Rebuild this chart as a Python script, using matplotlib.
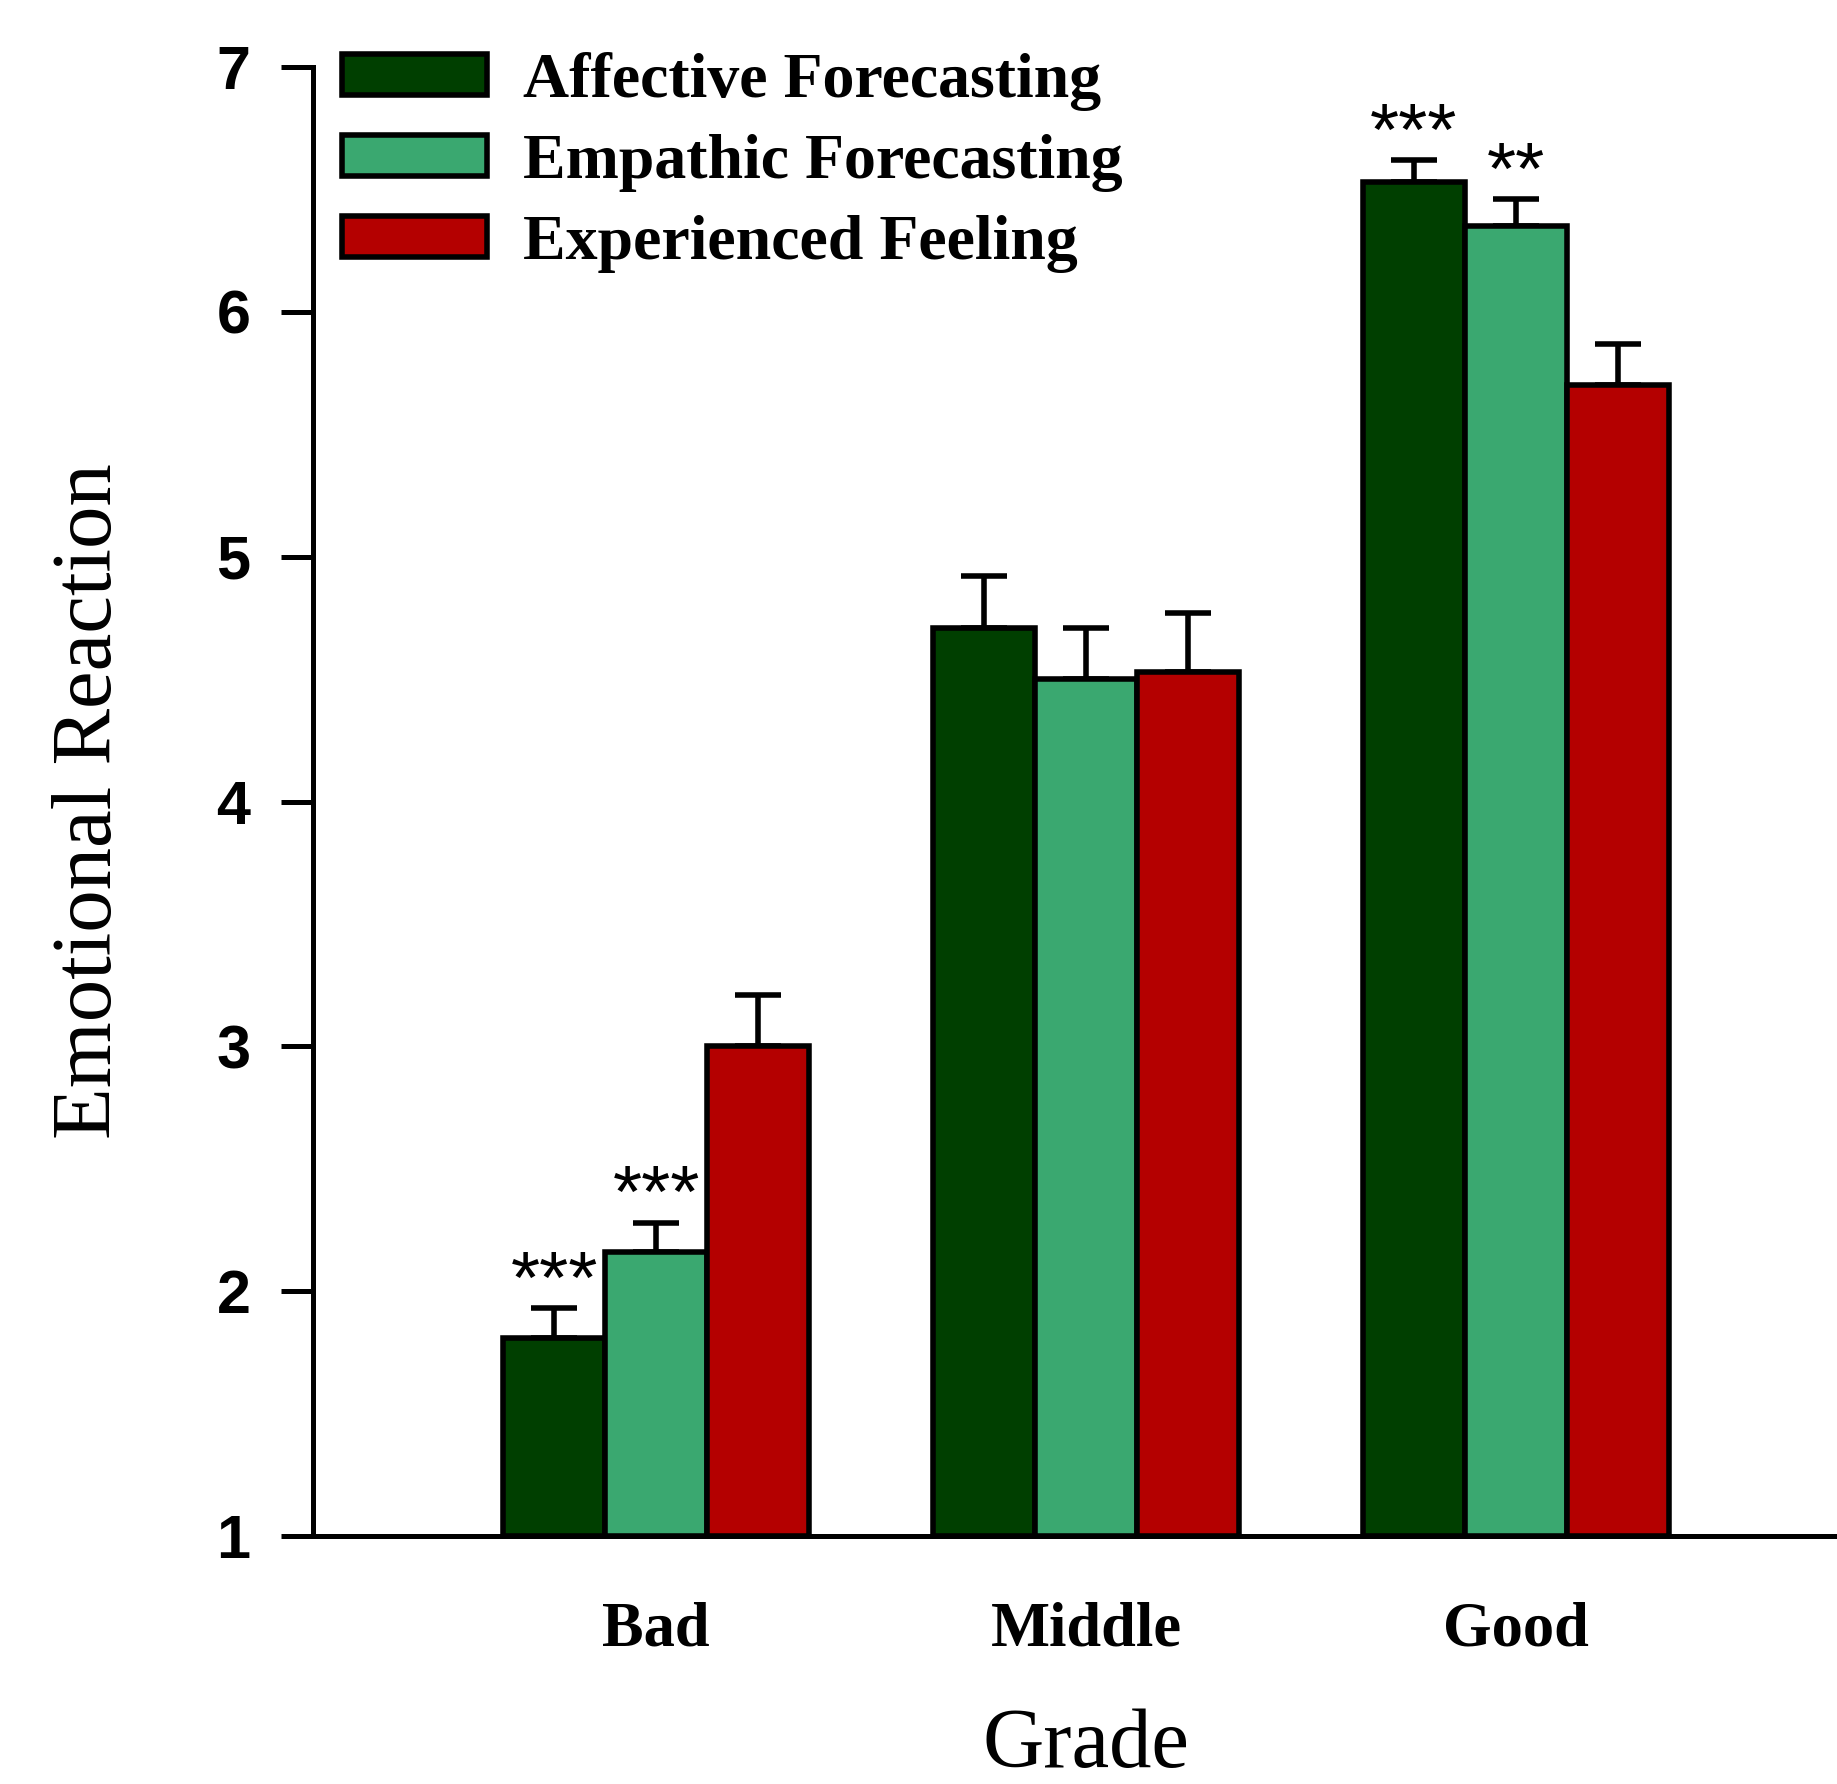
import matplotlib
matplotlib.use("Agg")
import matplotlib.pyplot as plt
import matplotlib.transforms as mtransforms
from matplotlib.patches import Patch
import numpy as np

# ---- data ----
grades = ["Bad", "Middle", "Good"]
series_names = ["Affective Forecasting", "Empathic Forecasting", "Experienced Feeling"]
affective = [1.81, 4.71, 6.53]
affective_err = [0.12, 0.21, 0.09]
empathic = [2.16, 4.50, 6.35]
empathic_err = [0.12, 0.21, 0.11]
experienced = [3.00, 4.53, 5.70]
experienced_err = [0.21, 0.24, 0.17]
stars_affective = ["***", "", "***"]
stars_empathic = ["***", "", "**"]
stars_experienced = ["", "", ""]
yticks = [1, 2, 3, 4, 5, 6, 7]

colors = ["#003F00", "#3AA870", "#B40000"]

fig = plt.figure(figsize=(18.37, 17.84), dpi=100)
ax = fig.add_axes([0.1704, 0.139, 0.8296, 0.8234])

x = np.arange(len(grades))
w = 0.237
all_vals = [affective, empathic, experienced]
all_errs = [affective_err, empathic_err, experienced_err]
all_stars = [stars_affective, stars_empathic, stars_experienced]
offsets = [-w, 0, w]

for vals, errs, stars, off, c in zip(all_vals, all_errs, all_stars, offsets, colors):
    heights = [v - 1 for v in vals]
    ax.bar(x + off, heights, width=w, bottom=1, color=c, edgecolor="black",
           linewidth=4.0, zorder=3)
    ax.errorbar(x + off, vals, yerr=[[0] * len(vals), errs], fmt="none",
                ecolor="black", elinewidth=4.0, capsize=16.5, capthick=4.0, zorder=2)
    for xi, v, e, s in zip(x + off, vals, errs, stars):
        if s:
            ax.annotate(s, (xi, v + e), xytext=(0, 4), textcoords="offset points",
                        ha="center", va="baseline", fontsize=54, fontweight="medium",
                        family="Liberation Sans", zorder=4)

ax.set_xlim(-0.798, 2.747)
ax.set_ylim(1, 7)
ax.set_yticks(yticks)
ax.set_yticklabels([str(t) for t in yticks], fontsize=44, fontweight="bold",
                   family="Liberation Sans")
ax.set_xticks(x)
ax.set_xticklabels(grades, fontsize=45, fontweight="bold", family="Liberation Serif")
ax.tick_params(axis="y", direction="out", length=23, width=3.6, pad=22)
ax.tick_params(axis="x", length=0, pad=47)

for sp in ["top", "right"]:
    ax.spines[sp].set_visible(False)
for sp in ["left", "bottom"]:
    ax.spines[sp].set_linewidth(3.6)
ax.spines["bottom"].set_zorder(5)

ax.set_ylabel("Emotional Reaction", fontsize=61, family="Liberation Serif")
ax.yaxis.set_label_coords(-0.146, 0.5)
ax.yaxis.label.set_va("center")

ax.set_xlabel("Grade", fontsize=61, family="Liberation Serif")
blend = mtransforms.blended_transform_factory(ax.transData, ax.transAxes)
ax.xaxis.set_label_coords(1, -0.157, transform=blend)
ax.xaxis.label.set_va("baseline")

handles = [Patch(facecolor=c, edgecolor="black", linewidth=4.0) for c in colors]
leg = fig.legend(handles, series_names, loc="upper left",
                 bbox_to_anchor=(0.1862, 0.9706), bbox_transform=fig.transFigure,
                 frameon=False, borderpad=0, borderaxespad=0,
                 handlelength=2.27, handleheight=0.61, handletextpad=0.57,
                 labelspacing=0.36,
                 prop={"family": "Liberation Serif", "weight": "bold", "size": 46})

fig.savefig("out.png", dpi=100)
